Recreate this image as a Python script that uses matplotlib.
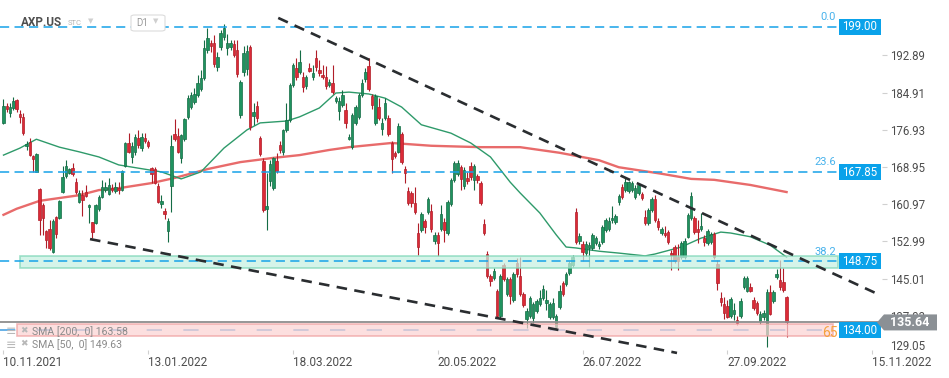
import numpy as np
import matplotlib.pyplot as plt
from matplotlib.patches import Polygon, Rectangle, FancyBboxPatch

plt.rcParams['font.family'] = ['Roboto', 'DejaVu Sans']

# daily candles AXP.US, 10.11.2021 .. 21.10.2022
opens = [
    178.4, 182.0, 180.5, 181.6, 183.3, 180.3, 179.7, 173.4, 174.3, 171.3,
    167.9, 164.2, 160.8, 155.2, 155.7, 150.7, 158.2, 158.0, 163.6, 167.0,
    167.7, 168.7, 165.7, 161.5, 162.9, 163.6, 160.4, 157.2, 157.0, 159.9,
    162.5, 164.0, 163.2, 164.4, 163.8, 164.4, 164.0, 169.2, 174.1, 171.1,
    172.2, 175.2, 173.0, 175.2, 174.3, 168.7, 168.5, 164.9, 161.0, 159.5,
    155.2, 164.9, 176.0, 175.6, 170.9, 174.9, 179.7, 181.8, 182.9, 184.4,
    185.7, 188.0, 194.0, 195.5, 195.5, 190.4, 194.7, 196.8, 194.5, 194.7,
    195.3, 194.0, 180.1, 189.3, 190.0, 194.7, 179.9, 182.0, 175.2, 170.2,
    159.9, 166.0, 164.4, 170.2, 173.7, 172.2, 176.9, 179.0, 186.5, 190.2,
    189.3, 188.2, 186.3, 190.2, 188.2, 192.3, 189.7, 188.7, 188.2, 186.5,
    186.9, 183.1, 180.9, 182.2, 181.2, 174.9, 173.2, 178.4, 179.7, 184.4,
    187.8, 190.6, 184.2, 178.4, 181.8, 177.1, 179.4, 179.4, 174.1, 172.0,
    172.2, 176.0, 168.5, 163.8, 163.4, 161.2, 154.8, 155.5, 157.4, 159.3,
    159.5, 153.1, 154.4, 155.7, 157.2, 154.8, 161.0, 166.2, 167.5, 168.9,
    164.9, 166.6, 169.2, 166.2, 167.0, 165.5, 156.7, 150.3, 145.6, 145.2,
    142.4, 137.0, 147.9, 141.7, 144.9, 140.4, 148.4, 145.6, 141.7, 136.4,
    137.0, 136.6, 138.1, 139.6, 140.9, 139.8, 136.8, 136.8, 134.7, 139.0,
    144.1, 143.9, 146.2, 148.0, 159.3, 153.1, 152.5, 150.5, 151.6, 151.6,
    152.7, 152.0, 152.9, 155.5, 155.7, 157.6, 157.2, 161.5, 164.7, 164.0,
    163.8, 164.0, 162.5, 163.4, 163.2, 158.2, 156.9, 159.7, 162.1, 157.4,
    154.8, 154.8, 155.0, 150.5, 151.8, 149.7, 149.7, 149.7, 154.0, 158.0,
    158.0, 155.7, 155.7, 153.7, 152.7, 152.9, 154.6, 148.2, 140.9, 139.6,
    139.2, 137.0, 137.4, 136.2, 137.0, 143.3, 142.4, 143.3, 140.4, 139.8,
    136.0, 136.8, 132.9, 142.2, 140.2, 145.4, 144.7, 144.3, 141.1,
]
highs = [
    183.5, 182.7, 182.7, 183.9, 183.5, 181.2, 180.5, 174.5, 175.2, 171.5,
    171.9, 164.4, 161.2, 155.5, 157.6, 157.8, 158.4, 161.9, 169.2, 170.5,
    168.7, 169.8, 166.6, 164.0, 164.0, 165.1, 161.0, 157.2, 161.0, 163.0,
    166.2, 165.7, 166.6, 165.3, 165.7, 165.7, 168.3, 174.3, 176.2, 174.3,
    176.0, 176.9, 176.2, 176.2, 174.7, 168.9, 168.9, 165.5, 162.9, 160.2,
    158.0, 175.8, 179.2, 177.3, 176.0, 179.5, 184.4, 185.0, 185.9, 188.7,
    189.7, 196.2, 198.7, 196.2, 197.2, 193.6, 198.3, 199.6, 197.5, 196.2,
    196.2, 196.2, 187.6, 194.9, 195.1, 195.1, 182.7, 183.1, 175.6, 170.9,
    167.7, 170.5, 171.1, 171.9, 174.5, 177.1, 182.7, 186.9, 191.3, 192.3,
    194.0, 189.3, 188.7, 191.2, 190.8, 194.0, 191.9, 190.8, 190.6, 187.8,
    190.8, 184.2, 184.0, 185.4, 182.7, 176.0, 180.5, 182.2, 184.8, 187.8,
    190.2, 192.3, 184.6, 184.6, 183.7, 179.4, 183.7, 180.1, 174.5, 172.4,
    178.4, 176.5, 169.2, 164.7, 163.8, 164.7, 157.0, 159.3, 157.8, 162.5,
    161.0, 155.0, 155.0, 160.8, 158.0, 161.9, 166.6, 170.2, 170.5, 169.4,
    169.0, 167.9, 170.0, 169.6, 167.5, 165.9, 157.8, 150.9, 146.1, 147.3,
    142.8, 146.1, 148.4, 145.4, 145.4, 146.5, 149.4, 149.7, 142.1, 138.7,
    141.3, 140.0, 140.7, 142.6, 143.7, 142.6, 140.0, 140.9, 137.5, 143.7,
    144.5, 146.5, 148.8, 150.1, 160.2, 154.8, 153.1, 153.1, 152.9, 154.8,
    154.2, 153.1, 156.5, 158.0, 158.2, 160.6, 158.9, 163.2, 165.3, 166.6,
    166.0, 166.0, 165.1, 165.5, 163.6, 159.7, 160.2, 162.5, 162.9, 158.0,
    156.1, 156.3, 155.5, 151.2, 152.2, 152.5, 153.1, 153.7, 159.1, 163.6,
    158.4, 157.6, 159.1, 154.4, 155.7, 155.0, 155.0, 149.0, 142.2, 141.1,
    140.4, 141.1, 139.8, 137.0, 140.9, 145.6, 145.6, 144.1, 141.1, 140.2,
    138.1, 138.3, 142.8, 143.7, 142.6, 147.1, 149.0, 147.3, 141.3,
]
lows = [
    178.2, 180.7, 179.7, 181.2, 180.7, 178.4, 175.8, 172.6, 171.3, 167.9,
    167.8, 154.4, 154.4, 151.6, 151.2, 150.5, 153.7, 157.9, 163.4, 166.6,
    167.4, 167.0, 163.2, 161.2, 158.4, 162.5, 157.0, 153.7, 156.8, 159.5,
    162.2, 163.6, 162.9, 163.6, 163.4, 163.2, 163.8, 168.9, 171.9, 169.8,
    171.5, 173.0, 172.4, 174.1, 173.0, 165.5, 165.2, 161.2, 160.2, 157.8,
    152.9, 159.3, 174.5, 171.9, 169.8, 174.5, 179.2, 181.4, 182.5, 184.0,
    185.2, 187.6, 193.4, 193.6, 190.4, 189.6, 194.0, 196.2, 193.0, 194.0,
    192.5, 188.3, 179.4, 188.5, 188.7, 176.9, 178.0, 178.6, 171.3, 159.3,
    155.5, 164.9, 164.0, 167.7, 171.9, 171.5, 176.5, 178.6, 186.0, 187.6,
    188.9, 185.0, 185.7, 189.3, 187.6, 189.6, 188.5, 187.8, 185.7, 186.1,
    184.6, 182.7, 179.0, 181.8, 177.3, 174.7, 172.8, 177.9, 179.2, 184.0,
    187.2, 185.2, 181.4, 178.0, 179.0, 175.8, 179.0, 175.6, 167.7, 170.9,
    171.9, 169.6, 165.5, 160.8, 160.4, 158.8, 150.1, 155.0, 154.8, 158.8,
    155.0, 152.5, 149.9, 155.2, 152.9, 154.4, 160.6, 165.7, 167.0, 164.0,
    164.2, 165.3, 166.2, 164.0, 165.5, 160.8, 154.4, 145.2, 143.5, 144.7,
    136.6, 136.6, 144.5, 141.3, 139.6, 140.0, 145.4, 141.3, 138.9, 134.5,
    136.6, 135.5, 137.7, 139.2, 140.4, 138.3, 136.4, 136.4, 134.0, 138.5,
    141.3, 143.5, 145.8, 147.5, 152.5, 152.5, 148.8, 149.9, 147.5, 151.2,
    152.2, 151.4, 152.5, 155.0, 155.2, 157.0, 156.7, 160.8, 162.1, 163.6,
    163.4, 163.6, 162.1, 162.9, 161.9, 156.5, 156.5, 159.3, 157.2, 155.5,
    154.4, 153.9, 152.5, 146.9, 148.4, 146.9, 149.2, 149.2, 153.7, 157.6,
    154.6, 152.7, 155.2, 152.0, 152.2, 152.5, 149.2, 142.6, 139.2, 136.4,
    136.6, 136.6, 136.2, 135.1, 136.6, 142.8, 142.1, 142.1, 138.3, 137.2,
    135.3, 136.2, 130.4, 137.2, 139.8, 145.0, 142.6, 142.1, 132.5,
]
closes = [
    182.0, 181.4, 181.8, 183.1, 181.4, 179.7, 176.2, 173.8, 171.5, 170.7,
    171.7, 157.6, 158.0, 153.3, 151.6, 157.4, 154.6, 161.7, 166.8, 169.2,
    168.5, 167.5, 163.6, 163.4, 161.9, 162.7, 160.8, 155.0, 160.8, 162.5,
    164.7, 164.7, 165.1, 164.0, 164.7, 164.0, 168.1, 174.1, 172.2, 173.5,
    175.4, 173.7, 175.4, 174.5, 173.5, 167.4, 165.5, 161.5, 161.7, 158.9,
    157.4, 173.5, 174.9, 172.2, 175.8, 179.2, 183.7, 184.4, 184.6, 186.9,
    188.0, 194.5, 196.6, 194.9, 191.0, 192.5, 197.7, 198.7, 195.5, 195.5,
    193.0, 188.9, 187.2, 193.4, 193.8, 177.5, 180.7, 179.4, 171.7, 159.7,
    160.6, 169.6, 170.9, 168.1, 172.6, 176.9, 179.0, 186.5, 190.8, 188.2,
    191.5, 186.1, 188.2, 189.5, 189.1, 190.4, 189.1, 188.2, 186.3, 187.2,
    185.0, 183.7, 183.1, 184.4, 178.4, 175.4, 180.1, 181.8, 184.4, 186.9,
    189.3, 185.7, 182.2, 184.2, 179.4, 178.4, 182.7, 176.0, 170.7, 171.3,
    177.7, 170.0, 167.7, 161.2, 161.2, 159.3, 151.8, 158.9, 156.1, 162.1,
    155.7, 154.4, 152.7, 158.9, 155.5, 161.5, 166.2, 169.8, 169.8, 166.4,
    168.3, 166.0, 166.8, 169.2, 166.2, 161.2, 154.8, 145.6, 144.5, 146.7,
    137.0, 145.6, 144.9, 144.9, 141.3, 146.0, 146.0, 141.7, 139.4, 138.1,
    140.9, 139.6, 140.2, 140.9, 142.8, 140.4, 139.6, 139.8, 137.0, 142.4,
    141.7, 146.0, 148.4, 149.7, 152.9, 154.2, 150.7, 152.5, 152.2, 154.4,
    153.7, 152.5, 156.1, 157.6, 157.4, 158.0, 158.4, 162.7, 162.5, 165.7,
    165.7, 165.5, 164.4, 165.1, 162.3, 156.9, 159.7, 162.1, 157.6, 156.1,
    155.7, 154.4, 152.9, 150.1, 148.8, 148.8, 152.7, 153.1, 158.7, 162.7,
    155.0, 155.0, 156.3, 152.9, 155.2, 154.6, 149.7, 144.1, 140.0, 137.7,
    136.8, 140.7, 138.3, 135.5, 140.2, 145.2, 145.2, 142.4, 138.7, 137.7,
    137.5, 137.7, 142.2, 137.5, 142.2, 146.0, 143.3, 142.6, 135.64,
]

# moving averages, sampled along the lines
sma200_idx = [0, 4, 11, 23, 29, 35, 45, 52, 62, 72, 82, 90, 99, 105, 118,
              130, 145, 157, 169, 181, 187, 200, 209, 216, 227, 238]
sma200_val = [158.7, 160.0, 161.7, 162.9, 164.0, 164.4, 165.5, 166.6, 168.5,
              170.0, 170.9, 171.5, 172.6, 173.2, 174.1, 173.5, 173.2, 173.2,
              172.0, 170.4, 168.9, 167.5, 166.4, 166.2, 165.1, 163.58]
sma50_idx = [0, 5, 10, 17, 23, 29, 35, 41, 48, 54, 60, 67, 74, 78, 86, 90, 96,
             101, 105, 111, 116, 121, 127, 136, 142, 148, 154, 157, 163, 168,
             171, 174, 181, 187, 195, 198, 206, 212, 218, 221, 227, 233, 238]
sma50_val = [171.5, 173.0, 174.9, 173.2, 172.2, 171.1, 169.4, 168.7, 167.9,
             166.4, 167.9, 173.0, 176.9, 178.4, 178.8, 179.7, 181.6, 184.8,
             185.0, 184.6, 183.7, 181.8, 178.0, 176.2, 174.1, 171.1, 165.7,
             163.4, 159.1, 154.4, 151.8, 151.6, 150.9, 150.5, 149.9, 150.3,
             151.8, 153.7, 155.0, 154.8, 154.0, 152.2, 149.63]

# drawn trend lines (bar index, price)
upper_trend = ([83.5, 266.4], [200.9, 141.5])
lower_trend = ([26.3, 204.7], [153.5, 129.1])

fib_prices = [199.00, 167.85, 148.75]
fib_labels = ["0.0", "23.6", "38.2"]
support_price = 134.00
last_price = 135.64

date_pos = [0, 44, 88, 132, 176, 220, 264]
date_labels = ["10.11.2021", "13.01.2022", "18.03.2022", "20.05.2022",
               "26.07.2022", "27.09.2022", "15.11.2022"]
price_ticks = [137.03, 145.01, 152.99, 160.97, 168.95, 176.93, 184.91, 192.89]

W, H = 949, 378
fig = plt.figure(figsize=(W / 100, H / 100), dpi=100)
ax = fig.add_axes([0, (H - 350) / H, 882 / W, 350 / H])
ax.set_xlim(-1.06, 267.0)
ax.set_ylim(129.73, 204.74)
for s in ax.spines.values():
    s.set_visible(False)


def fx(px):
    return px / W


def fy(py):
    return 1 - py / H


def ax_x(px):
    return px / 882


# candles
x = np.arange(len(opens))
o, hi, lo, c = map(np.array, (opens, highs, lows, closes))
up = c >= o
face = np.where(up, "#1f935f", "#dc2a37")
edge = np.where(up, "#146c45", "#b01d28")
ax.vlines(x, lo, hi, colors=edge, linewidth=0.8, zorder=3)
ax.bar(x, np.maximum(np.abs(c - o), 0.3), bottom=np.minimum(o, c), width=0.74,
       color=face, edgecolor=edge, linewidth=0.5, zorder=3)

# SMA
ax.plot(sma200_idx, sma200_val, color="#e65b5b", lw=1.7, alpha=0.9, zorder=2.6)
ax.plot(sma50_idx, sma50_val, color="#2e9a6a", lw=1.0, zorder=2.6)

# support line under the red zone
ax.axhline(support_price, xmin=0, xmax=ax_x(835), color="#3d9be0", lw=1.1,
           ls=(0, (10, 14)), zorder=3.5)

# zones
ax.axhspan(147.3, 149.9, xmin=ax_x(20), xmax=ax_x(838), facecolor="#c6f0e1",
           alpha=0.72, edgecolor="#7dd6b6", lw=1.2, zorder=3.8)
ax.axhspan(132.7, 135.3, xmin=ax_x(17), xmax=ax_x(833), facecolor="#fbd3d3",
           alpha=0.72, edgecolor="#efa0a0", lw=1.2, zorder=4.2)

for p in fib_prices:
    ax.axhline(p, xmin=0, xmax=ax_x(838), color="#16a2e8", lw=1.1,
               ls=(0, (6, 3.5)), zorder=4)

ax.axhline(last_price, color="#8e8e8e", lw=1.3, zorder=4.5)

# trend lines
for tx, ty in (upper_trend, lower_trend):
    ax.plot(tx, ty, color="#2a2d30", lw=1.9, ls=(0, (4, 2.8)), zorder=5,
            clip_on=False, solid_capstyle="butt")

tr = ax.get_yaxis_transform()
box_h = 16 / 4.666

# fibo labels
for p, lab in zip(fib_prices, fib_labels):
    ax.text(ax_x(836), p + 1.0, lab, transform=tr, ha="right", va="bottom",
            color="#47b2ec", fontsize=8, zorder=6)
ax.text(ax_x(838), 133.4, "65", transform=tr, ha="right", va="center",
        color="#f6a23d", fontsize=10, zorder=6)

# blue price boxes
for p in fib_prices + [support_price]:
    ax.add_patch(Rectangle((ax_x(839), p - box_h / 2), ax_x(42), box_h,
                           transform=tr, facecolor="#0aa2ea", edgecolor="none",
                           zorder=7, clip_on=False))
    ax.text(ax_x(860), p, f"{p:.2f}", transform=tr, ha="center", va="center",
            color="white", fontsize=8.3, zorder=8)

# last price box with arrow
bh = box_h / 2
ax.add_patch(Polygon([(ax_x(877), last_price), (ax_x(884), last_price + bh),
                      (ax_x(937), last_price + bh), (ax_x(937), last_price - bh),
                      (ax_x(884), last_price - bh)], closed=True,
                     transform=tr, facecolor="#8b9095", edgecolor="none",
                     zorder=9, clip_on=False))
ax.text(ax_x(910), last_price, f"{last_price:.2f}", transform=tr, ha="center",
        va="center", color="white", fontsize=9, fontweight="bold", zorder=10)

# axes ticks
ax.yaxis.tick_right()
ax.set_yticks(price_ticks)
ax.set_yticklabels([f"{v:.2f}" for v in price_ticks])
ax.tick_params(axis="y", length=3.6, width=0.8, color="#d0d0d0",
               labelcolor="#4d4d4d", labelsize=8.3, pad=2.2)
ax.text(1 + 8 / 882, 130.4, "129.05", transform=tr, ha="left", va="center",
        color="#4d4d4d", fontsize=8.3)

ax.set_xticks(date_pos)
ax.set_xticklabels(date_labels)
ax.tick_params(axis="x", length=3, width=0.8, color="#d0d0d0",
               labelcolor="#4d4d4d", labelsize=8.5, pad=1.5)
for lab in ax.get_xticklabels():
    lab.set_ha("left")

# header
fig.text(fx(21), fy(22), "AXP.US", ha="left", va="center", fontsize=8.5,
         fontweight="bold", color="#4f4f4f")
fig.text(fx(68), fy(23), "STC", ha="left", va="center", fontsize=5.5,
         color="#b4b4b4")
fig.text(fx(88), fy(22), "\u25bc", ha="left", va="center", fontsize=5,
         color="#cfcfcf")
fig.patches.append(FancyBboxPatch((fx(131), fy(31)), fx(34), 16 / H,
                                  boxstyle="round,pad=0,rounding_size=0.004",
                                  transform=fig.transFigure, facecolor="white",
                                  edgecolor="#dcdcdc", lw=0.8, zorder=5))
fig.text(fx(136), fy(23), "D1", ha="left", va="center", fontsize=7,
         color="#9a9a9a", zorder=6)
fig.text(fx(153), fy(22), "\u25bc", ha="left", va="center", fontsize=5,
         color="#cfcfcf", zorder=6)

# legend rows
for py, txt in ((332, "SMA [200,  0] 163.58"), (345, "SMA [50,  0] 149.63")):
    fig.text(fx(6), fy(py), "\u2261", ha="left", va="center", fontsize=9,
             color="#b8b8b8", zorder=10)
    fig.text(fx(20), fy(py - 1), "\u2716", ha="left", va="center", fontsize=6.5,
             color="#b8b8b8", zorder=10)
    fig.text(fx(32), fy(py), txt, ha="left", va="center", fontsize=7.6,
             color="#8a8a8a", zorder=10)

fig.savefig("out.png", dpi=100, facecolor="white")
